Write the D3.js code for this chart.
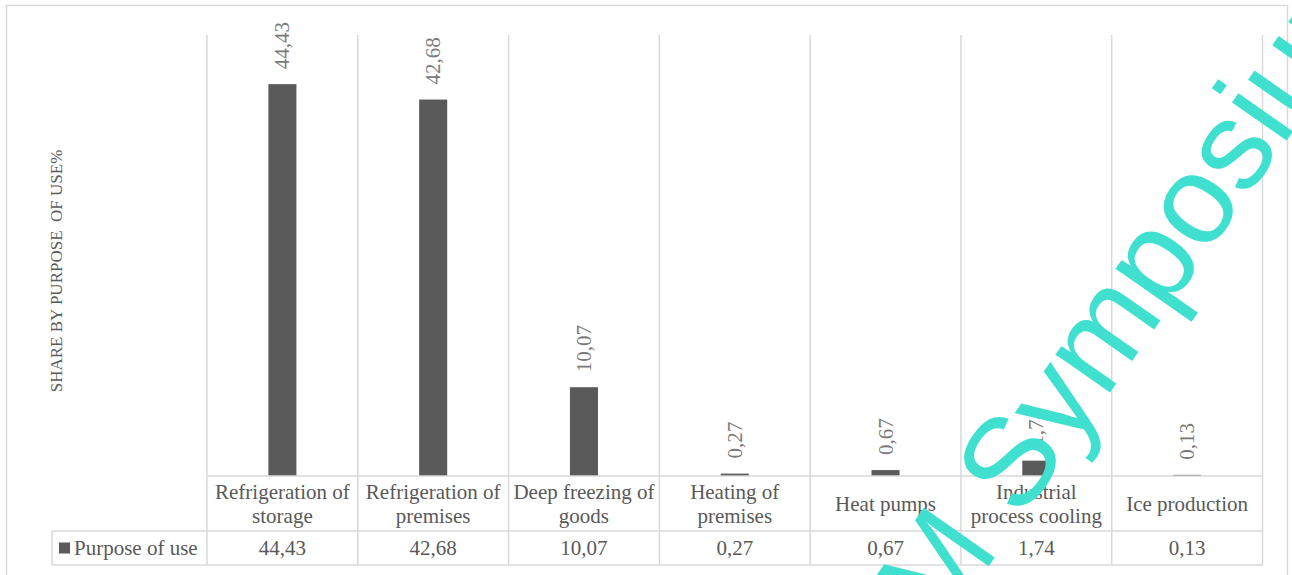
<!DOCTYPE html>
<html>
<head>
<meta charset="utf-8">
<script src="https://cdn.jsdelivr.net/npm/d3@7"></script>
<style>
  html, body { margin: 0; padding: 0; background: #ffffff; }
  svg { display: block; }
  text { font-family: "Liberation Serif", "Times New Roman", serif; }
  text.stamp { font-family: "Liberation Sans", Arial, sans-serif; }
</style>
</head>
<body>
<svg id="chart" width="1292" height="575"></svg>
<script>
// Share of use by purpose (%)
const categories = [
  "Refrigeration of storage",
  "Refrigeration of premises",
  "Deep freezing of goods",
  "Heating of premises",
  "Heat pumps",
  "Industrial process cooling",
  "Ice production"
];
const values = [44.43, 42.68, 10.07, 0.27, 0.67, 1.74, 0.13];
const valueLabels = ["44,43", "42,68", "10,07", "0,27", "0,67", "1,74", "0,13"];
const seriesName = "Purpose of use";
const axisTitle = "SHARE BY PURPOSE  OF USE%";
const yDomain = [0, 50];

const W = 1292, H = 575;
const plot = { left: 207, right: 1262.5, top: 35, bottom: 476 };
const table = { legendLeft: 52, row1Bottom: 531, row2Bottom: 565 };
const gridColor = "#d9d9d9";
const textColor = "#595959";
const barColor = "#5a5a5a";

const svg = d3.select("#chart");

svg.append("rect")
  .attr("x", 0).attr("y", 0).attr("width", W).attr("height", H)
  .attr("fill", "#ffffff");

// chart frame
svg.append("rect")
  .attr("x", 6.5).attr("y", 5.5)
  .attr("width", 1281).attr("height", 620)
  .attr("fill", "none")
  .attr("stroke", gridColor)
  .attr("stroke-width", 1.5);

const x = d3.scaleBand().domain(categories).range([plot.left, plot.right]).padding(0);
const y = d3.scaleLinear().domain(yDomain).range([plot.bottom, plot.top]);
const barW = x.bandwidth() * 0.186;

// vertical separators (plot area + data table)
const edges = categories.map(c => x(c)).concat([plot.right]);
svg.append("g").selectAll("line").data(edges).join("line")
  .attr("x1", d => d).attr("x2", d => d)
  .attr("y1", plot.top).attr("y2", table.row2Bottom)
  .attr("stroke", gridColor).attr("stroke-width", 1.5);

// bars
svg.append("g").selectAll("rect").data(values).join("rect")
  .attr("x", (d, i) => x(categories[i]) + x.bandwidth() / 2 - barW / 2)
  .attr("y", d => y(d))
  .attr("width", barW)
  .attr("height", d => y(0) - y(d))
  .attr("fill", barColor);

// value labels, rotated
svg.append("g").selectAll("text").data(values).join("text")
  .attr("transform", (d, i) => {
    const cx = x(categories[i]) + x.bandwidth() / 2 + 7;
    return `translate(${cx},${y(d) - 15}) rotate(-90)`;
  })
  .attr("text-anchor", "start")
  .attr("font-size", 21)
  .attr("fill", "#7a7a7a")
  .text((d, i) => valueLabels[i]);

// data table lines
const hLines = [
  { y: plot.bottom, x1: plot.left, x2: plot.right },
  { y: table.row1Bottom, x1: table.legendLeft, x2: plot.right },
  { y: table.row2Bottom, x1: table.legendLeft, x2: plot.right }
];
svg.append("g").selectAll("line").data(hLines).join("line")
  .attr("x1", d => d.x1).attr("x2", d => d.x2)
  .attr("y1", d => d.y).attr("y2", d => d.y)
  .attr("stroke", gridColor).attr("stroke-width", 1.5);
svg.append("line")
  .attr("x1", table.legendLeft).attr("x2", table.legendLeft)
  .attr("y1", table.row1Bottom).attr("y2", table.row2Bottom)
  .attr("stroke", gridColor).attr("stroke-width", 1.5);

// category labels, wrapped to the column width
const maxW = x.bandwidth() - 6;
const catG = svg.append("g");
categories.forEach(c => {
  const words = c.split(" ");
  const probe = catG.append("text").attr("font-size", 21);
  const lines = [];
  let cur = "";
  words.forEach(w => {
    const t = cur ? cur + " " + w : w;
    probe.text(t);
    if (probe.node().getComputedTextLength() > maxW && cur) {
      lines.push(cur);
      cur = w;
    } else {
      cur = t;
    }
  });
  lines.push(cur);
  probe.remove();
  const lh = 24.5;
  const cy = (plot.bottom + table.row1Bottom) / 2;
  const firstBase = cy + 7.5 - (lines.length - 1) * lh / 2;
  const t = catG.append("text")
    .attr("text-anchor", "middle")
    .attr("font-size", 21)
    .attr("fill", textColor);
  lines.forEach((ln, k) => {
    t.append("tspan")
      .attr("x", x(c) + x.bandwidth() / 2)
      .attr("y", firstBase + k * lh)
      .text(ln);
  });
});

// value row
const rowBase = (table.row1Bottom + table.row2Bottom) / 2 + 7;
svg.append("g").selectAll("text").data(values).join("text")
  .attr("x", (d, i) => x(categories[i]) + x.bandwidth() / 2)
  .attr("y", rowBase)
  .attr("text-anchor", "middle")
  .attr("font-size", 21)
  .attr("fill", textColor)
  .text((d, i) => valueLabels[i]);

// legend key + series name
svg.append("rect")
  .attr("x", 59).attr("y", 542.5).attr("width", 11).attr("height", 11)
  .attr("fill", barColor);
svg.append("text")
  .attr("x", 74).attr("y", rowBase)
  .attr("font-size", 21)
  .attr("fill", textColor)
  .text(seriesName);

// axis title
svg.append("text")
  .attr("transform", "translate(62,271) rotate(-90)")
  .attr("text-anchor", "middle")
  .attr("font-size", 17)
  .attr("fill", textColor)
  .style("white-space", "pre")
  .text(axisTitle);

// stamp across the lower right
svg.append("text")
  .attr("class", "stamp")
  .attr("transform", "translate(940.5,634.9) rotate(-55)")
  .attr("font-size", 126)
  .attr("fill", "#40e0d0")
  .style("white-space", "pre")
  .text("M Symposium");
</script>
</body>
</html>
